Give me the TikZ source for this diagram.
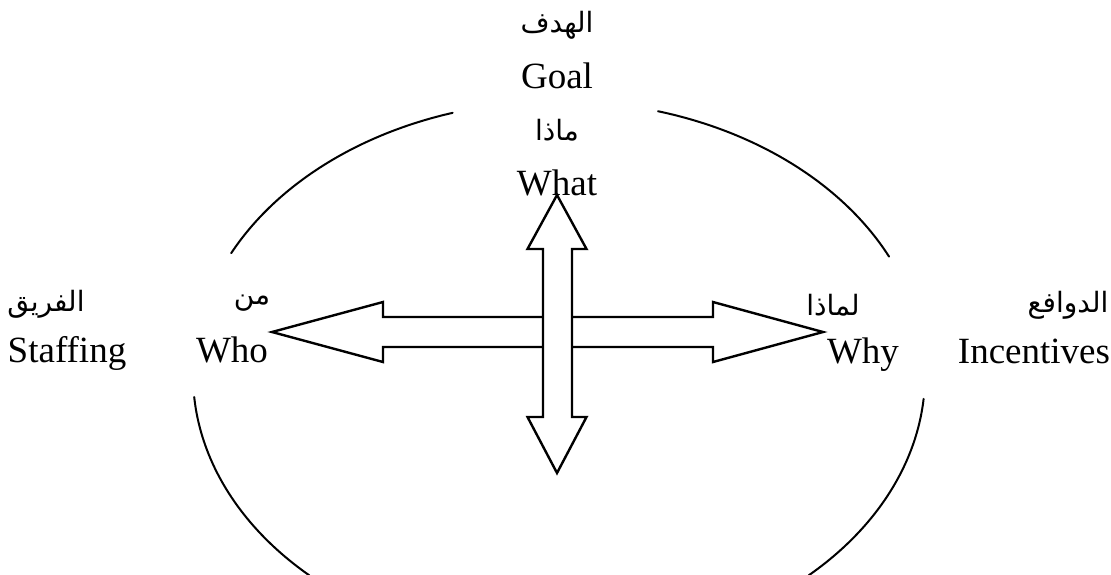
\documentclass[tikz,border=0pt]{standalone}
\usepackage{fontspec}
\setmainfont{Liberation Serif}
\newfontfamily\arabicfont[Script=Arabic]{DejaVu Sans}
\TeXXeTstate=1
\usetikzlibrary{positioning}
\newcommand{\artext}[1]{{\arabicfont\beginR #1\endR}}
\tikzset{ring/.style={line width=1pt,line cap=round},
arrowbox/.style={draw,line width=1.2pt,fill=white,line join=miter},
en/.style={font=\fontsize{18.5}{22}\selectfont,inner sep=0pt,anchor=base},
ar/.style={font=\fontsize{14}{17}\selectfont,inner sep=0pt}}

\begin{document}
\begin{tikzpicture}[x=0.5pt,y=-0.5pt]
\useasboundingbox (0,0) rectangle (1111,574);
\coordinate (c) at (559,375);
% four arcs of the ring
\draw[ring] ([shift={(-153.6:366 and 274)}]c) arc[start angle=-153.6,end angle=-106.9,x radius=366,y radius=274];
\draw[ring] ([shift={(-74.3:366 and 274)}]c) arc[start angle=-74.3,end angle=-25.6,x radius=366,y radius=274];
\draw[ring] ([shift={(175.4:366 and 274)}]c) arc[start angle=175.4,end angle=133,x radius=366,y radius=274];
\draw[ring] ([shift={(5:366 and 274)}]c) arc[start angle=5,end angle=47,x radius=366,y radius=274];
% the two double arrows
\draw[arrowbox] (272,332) -- (383,302) -- (383,317) -- (713,317) -- (713,302) -- (823,332)
  -- (713,362) -- (713,347) -- (383,347) -- (383,362) -- cycle;
\draw[arrowbox] (557,195) -- (586.5,249) -- (572,249) -- (572,417) -- (586.5,417) -- (557,473)
  -- (527.5,417) -- (543,417) -- (543,249) -- (527.5,249) -- cycle;
% labels
\node[ar] (hadaf) at (557,25) {\artext{الهدف}};
\node[en] (goal) at (557,88) {Goal};
\node[ar] (matha) at (557,130) {\artext{ماذا}};
\node[en] (what) at (557,195) {What};
\node[ar] (fariq) at (46,304) {\artext{الفريق}};
\node[en] (staffing) at (67,362) {Staffing};
\node[ar] (man) at (252,303) {\artext{من}};
\node[en] (who) at (232,362) {Who};
\node[ar] (limatha) at (833,305) {\artext{لماذا}};
\node[en] (why) at (863,363) {Why};
\node[ar] (dawafi) at (1068,305) {\artext{الدوافع}};
\node[en] (incentives) at (1034,363) {Incentives};
\end{tikzpicture}
\end{document}
